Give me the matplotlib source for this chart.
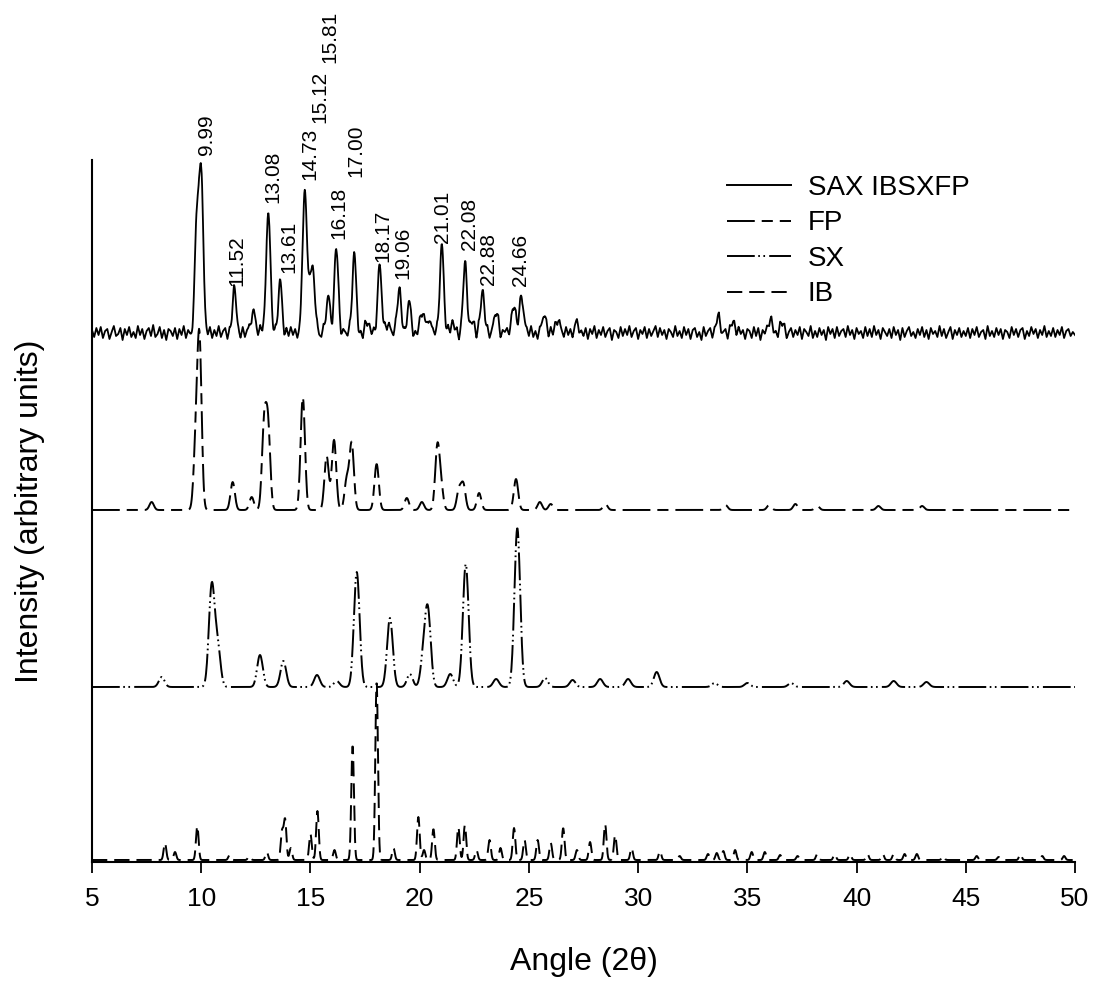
import numpy as np
import matplotlib.pyplot as plt
from matplotlib.lines import Line2D

plt.rcParams['font.family'] = ['Liberation Sans', 'DejaVu Sans']
plt.rcParams['lines.scale_dashes'] = False

# peak positions (2-theta) and heights
sax_pos = [9.80, 10.00, 11.52, 12.37, 12.90, 13.08, 13.61, 14.73, 14.92, 15.12, 15.81, 16.18,
           17.00, 17.60, 18.17, 18.50, 19.06, 19.51, 20.10, 20.40, 21.01, 21.50, 22.08, 22.40,
           22.88, 23.50, 24.30, 24.66, 25.70, 26.30, 27.20, 33.66, 34.35, 36.04, 36.60]
sax_h = [115, 163, 41, 23, 12, 120, 50, 140, 45, 60, 35, 85,
         78, 10, 66, 10, 42, 28, 20, 15, 87, 10, 67, 12,
         41, 20, 30, 38, 18, 15, 8, 15, 12, 12, 10]

fp_pos = [7.73, 9.75, 9.92, 11.44, 12.31, 12.88, 13.06, 14.65, 15.74, 16.08, 16.66, 16.89,
          18.03, 19.41, 20.10, 20.81, 20.98, 21.80, 22.00, 22.72, 24.41, 25.50, 26.00, 28.50,
          34.00, 36.00, 37.20, 38.20, 41.00, 43.00]
fp_h = [8, 60, 165, 28, 13, 82, 80, 113, 54, 70, 30, 66,
        46, 12, 8, 62, 22, 20, 25, 17, 31, 8, 6, 6,
        5, 5, 6, 4, 4, 4]

sx_pos = [8.19, 10.48, 10.75, 12.69, 13.76, 15.30, 16.20, 17.12, 18.64, 19.55, 20.18, 20.38,
          21.40, 22.11, 23.50, 24.47, 25.74, 27.00, 28.26, 29.54, 30.85, 33.50, 35.00, 37.00,
          39.55, 41.70, 43.20]
sx_h = [10, 100, 40, 32, 26, 12, 6, 115, 69, 13, 30, 72,
        13, 123, 8, 159, 9, 7, 8, 8, 15, 4, 4, 4,
        6, 6, 5]

ib_pos = [8.34, 8.80, 9.82, 11.30, 12.20, 13.00, 13.70, 13.84, 14.10, 15.00, 15.32, 16.10,
          16.93, 18.03, 18.80, 19.94, 20.20, 20.63, 21.77, 22.07, 22.60, 23.20, 23.70, 24.32,
          24.80, 25.40, 26.00, 26.57, 27.20, 27.80, 28.49, 28.95, 29.70, 31.00, 31.90, 33.20,
          33.60, 33.90, 34.44, 35.20, 35.80, 36.50, 37.30, 38.20, 39.00, 39.70, 40.50, 41.20,
          41.70, 42.20, 42.76, 43.96, 45.50, 46.50, 47.50, 48.50, 49.50]
ib_h = [17, 8, 34, 5, 4, 8, 28, 40, 12, 26, 49, 10,
        115, 179, 12, 43, 10, 31, 33, 35, 10, 20, 12, 32,
        20, 20, 17, 32, 10, 18, 36, 25, 12, 9, 4, 6,
        7, 9, 10, 8, 8, 5, 4, 6, 6, 6, 6, 6,
        6, 6, 6, 4, 4, 3, 6, 4, 4]

# baseline noise of the SAX IBSXFP trace, every 0.1 degrees from 5 to 50
sax_noise = [3, -4, 5, -2, 6, -5, 2, 4, -6, 1, 7, -3, -1, 5, -7, 4, -2, 6, -4, 1,
             -5, 7, -2, 4, -6, 2, 5, -3, 8, -4, -1, 6, -5, 3, -7, 4, 2, -3, 5, -6,
             4, -2, 7, -5, 3, -1, -4, 6, -3, 5, -7, 2, 4, -2, 6, -5, 3, -3, 7, -4,
             2, 5, -6, 4, -3, 8, -2, 1, -5, 6, -4, 3, 5, -7, 2, 4, -3, 7, -5, -1,
             6, -4, 3, -2, 5, -6, 4, 2, -7, 5, -3, 6, -2, 4, -5, 3, 7, -4, 1, -6,
             4, 3, -5, 6, -2, -4, 7, -3, 2, 5, -6, 3, -2, 8, -5, 4, 1, -3, 6, -7,
             3, 5, -4, 2, -6, 7, -3, 4, -2, 5, -5, 6, 1, -4, 3, -7, 5, 2, -3, 6,
             -4, 7, -2, 3, -5, 4, 6, -6, 2, -3, 5, -4, 7, 1, -5, 3, 4, -2, 6, -6,
             2, 4, -3, 7, -5, 3, -2, 5, -7, 4, 1, 6, -4, 2, -3, 5, -6, 7, -2, 3,
             -4, 6, -5, 2, 4, -3, 7, -6, 3, 1, 5, -4, 2, -7, 6, -2, 4, -5, 3, 5,
             -3, 7, -4, 2, -6, 5, 1, -2, 4, -5, 6, -3, 3, -7, 5, 2, -4, 6, -2, 4,
             -5, 3, 6, -4, 2, -3, 5, -6, 4, -1, 7, -5, 3, -2, 6, -4, 2, 5, -7, 3,
             1, -5, 6, -3, 4, -2, 7, -4, 2, 5, -6, 3, -1, 6, -5, 4, -3, 2, 7, -4,
             5, -2, 3, -6, 4, 1, -4, 7, -3, 2, -5, 6, -2, 4, -6, 3, 5, -4, 1, -7,
             6, -3, 2, 5, -5, 3, -2, 7, -4, 1, 4, -6, 5, -3, 2, -5, 6, -1, 3, -6,
             4, 2, -5, 6, -3, 5, -7, 3, -1, 4, -4, 7, -2, 2, -5, 6, -3, 4, -6, 1,
             5, -4, 3, -2, 6, -6, 4, 1, -3, 7, -5, 2, -4, 5, -2, 3, -7, 6, -1, 4,
             -5, 6, -3, 2, 4, -4, 7, -2, 3, -6, 5, -1, 2, -5, 6, -3, 4, -4, 7, -2,
             3, -6, 5, 1, -3, 4, -5, 6, -2, 3, -7, 5, -4, 2, 6, -3, 1, -5, 4, -2,
             6, -4, 3, -6, 5, -1, 2, -4, 7, -3, 4, -5, 1, 6, -6, 3, -2, 5, -4, 2,
             -3, 5, -5, 4, -2, 6, -4, 1, 3, -6, 7, -3, 2, -4, 5, -2, 4, -6, 3, 1,
             -5, 6, -2, 4, -4, 3, 5, -6, 2, -3, 6, -1, 4, -5, 3, -2, 7, -4, 2, -3,
             5, -4, 3, -2, 6, -5, 2, 4, -3, 1, -2]

labels = ['9.99', '11.52', '13.08', '13.61', '14.73', '15.12', '15.81', '16.18',
          '17.00', '18.17', '19.06', '21.01', '22.08', '22.88', '24.66']
label_x = [10.25, 11.62, 13.27, 14.02, 14.98, 15.44, 15.90, 16.31,
           17.09, 18.33, 19.22, 21.06, 22.26, 23.13, 24.63]
label_y = [707, 576, 659, 589, 682, 739, 799, 623,
           685, 600, 583, 619, 612, 577, 576]


def profile(x, pos, h, w):
    y = np.zeros_like(x)
    for p, a in zip(pos, h):
        y += a * np.exp(-(x - p) ** 2 / (2 * w ** 2))
    return y


x = np.arange(5, 50.001, 0.02)
noise_x = np.linspace(5, 50, len(sax_noise))

sax = 529 + profile(x, sax_pos, sax_h, 0.09) + np.interp(x, noise_x, sax_noise)
fp = 352 + profile(x, fp_pos, fp_h, 0.10)
sx = 175 + profile(x, sx_pos, sx_h, 0.13)
ib = 2 + profile(x, ib_pos, ib_h, 0.06)

fp_ls = (0, (20, 5, 8, 5))
sx_ls = (0, (20, 2.5, 1.2, 2.5, 1.2, 3))
ib_ls = (0, (11, 5))

fig = plt.figure(figsize=(10.94, 9.85), dpi=100)
ax = fig.add_axes([92 / 1094, 123 / 985, 983 / 1094, 702 / 985])

ax.plot(x, sax, color='black', lw=1.3)
ax.plot(x, fp, color='black', lw=1.4, linestyle=fp_ls)
ax.plot(x, sx, color='black', lw=1.4, linestyle=sx_ls)
ax.plot(x, ib, color='black', lw=1.4, linestyle=ib_ls)

for t, lx, ly in zip(labels, label_x, label_y):
    ax.text(lx, ly, t, rotation=90, ha='center', va='bottom', fontsize=15, clip_on=False)

ax.set_xlim(5, 50)
ax.set_ylim(0, 702)
ax.set_xticks(range(5, 51, 5))
ax.set_yticks([])
ax.tick_params(axis='x', direction='out', length=8, width=1.3, labelsize=19, pad=10)
ax.spines['top'].set_visible(False)
ax.spines['right'].set_visible(False)
ax.spines['left'].set_linewidth(1.5)
ax.spines['bottom'].set_linewidth(1.5)

ax.set_xlabel('Angle (2\u03b8)', fontsize=23, labelpad=26)
ax.set_ylabel('Intensity (arbitrary units)', fontsize=23)
ax.yaxis.set_label_coords(-0.048, 0.5)

handles = [Line2D([], [], color='black', lw=1.4),
           Line2D([], [], color='black', lw=1.4, linestyle=fp_ls),
           Line2D([], [], color='black', lw=1.4, linestyle=sx_ls),
           Line2D([], [], color='black', lw=1.4, linestyle=ib_ls)]
ax.legend(handles, ['SAX IBSXFP', 'FP', 'SX', 'IB'], loc='upper left',
          bbox_to_anchor=(727 / 1094, 1 - 175 / 985), bbox_transform=fig.transFigure,
          frameon=False, fontsize=20, handlelength=2.3, handletextpad=0.6,
          labelspacing=0.34, borderpad=0, borderaxespad=0)

fig.savefig('out.png', dpi=100)
